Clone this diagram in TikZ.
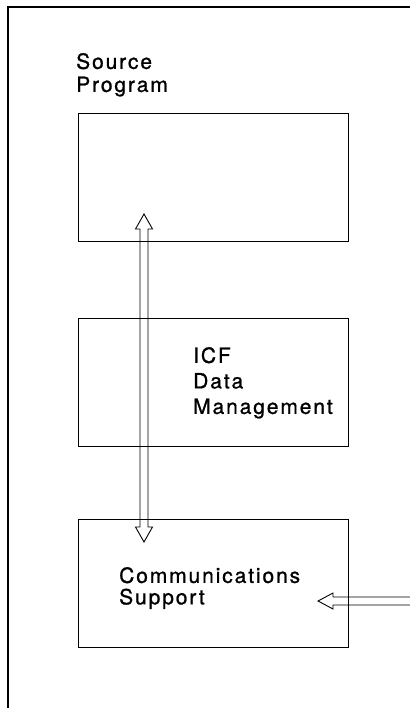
\documentclass[tikz,border=0pt]{standalone}
\usepackage{fontspec}
\setmainfont{TeX Gyre Heros}[LetterSpace=9, FakeBold=1]
\usetikzlibrary{calc}

\begin{document}
\begin{tikzpicture}[x=1pt, y=-1pt,
    box/.style={draw, line width=0.9pt, minimum width=270pt, minimum height=128pt, inner sep=0pt},
    lbl/.style={anchor=north west, align=left, inner sep=0pt}]
    \useasboundingbox (0,0) rectangle (409,708);
    \draw[line width=1.1pt] (8,720) -- (8,7) -- (420,7);

    \node[box] (src) at (213,177.5) {}; \node[box] (icf) at (213,382.5) {}; \node[box] (comm) at (213,583.5) {};

    \node[lbl, font=\fontsize{21}{23}\selectfont] (srctxt) at (76,53) {Source\\Program};
    \node[lbl, font=\fontsize{21}{25.5}\selectfont] (icftxt) at (193,347) {ICF\\Data\\Management};
    \node[lbl, font=\fontsize{21}{21.5}\selectfont] (commtxt) at (119,567) {Communications\\Support};

    % hollow arrows
    \coordinate (up) at (144,214); \coordinate (dn) at (144,542); \coordinate (in) at (318,601);
    \draw[line width=0.9pt] (up) -- ++(8.5,15) -- ++(-4.5,0) -- ($(dn)+(4,-15)$) -- ++(4.5,0) -- (dn)
        -- ++(-8.5,-15) -- ++(4.5,0) -- ($(up)+(-4,15)$) -- ++(-4.5,0) -- cycle;
    \draw[line width=0.9pt] (in) -- ++(15,-8) -- ++(0,4) -- ++(90,0) -- ++(0,8) -- ++(-90,0) -- ++(0,4) -- cycle;
\end{tikzpicture}
\end{document}
